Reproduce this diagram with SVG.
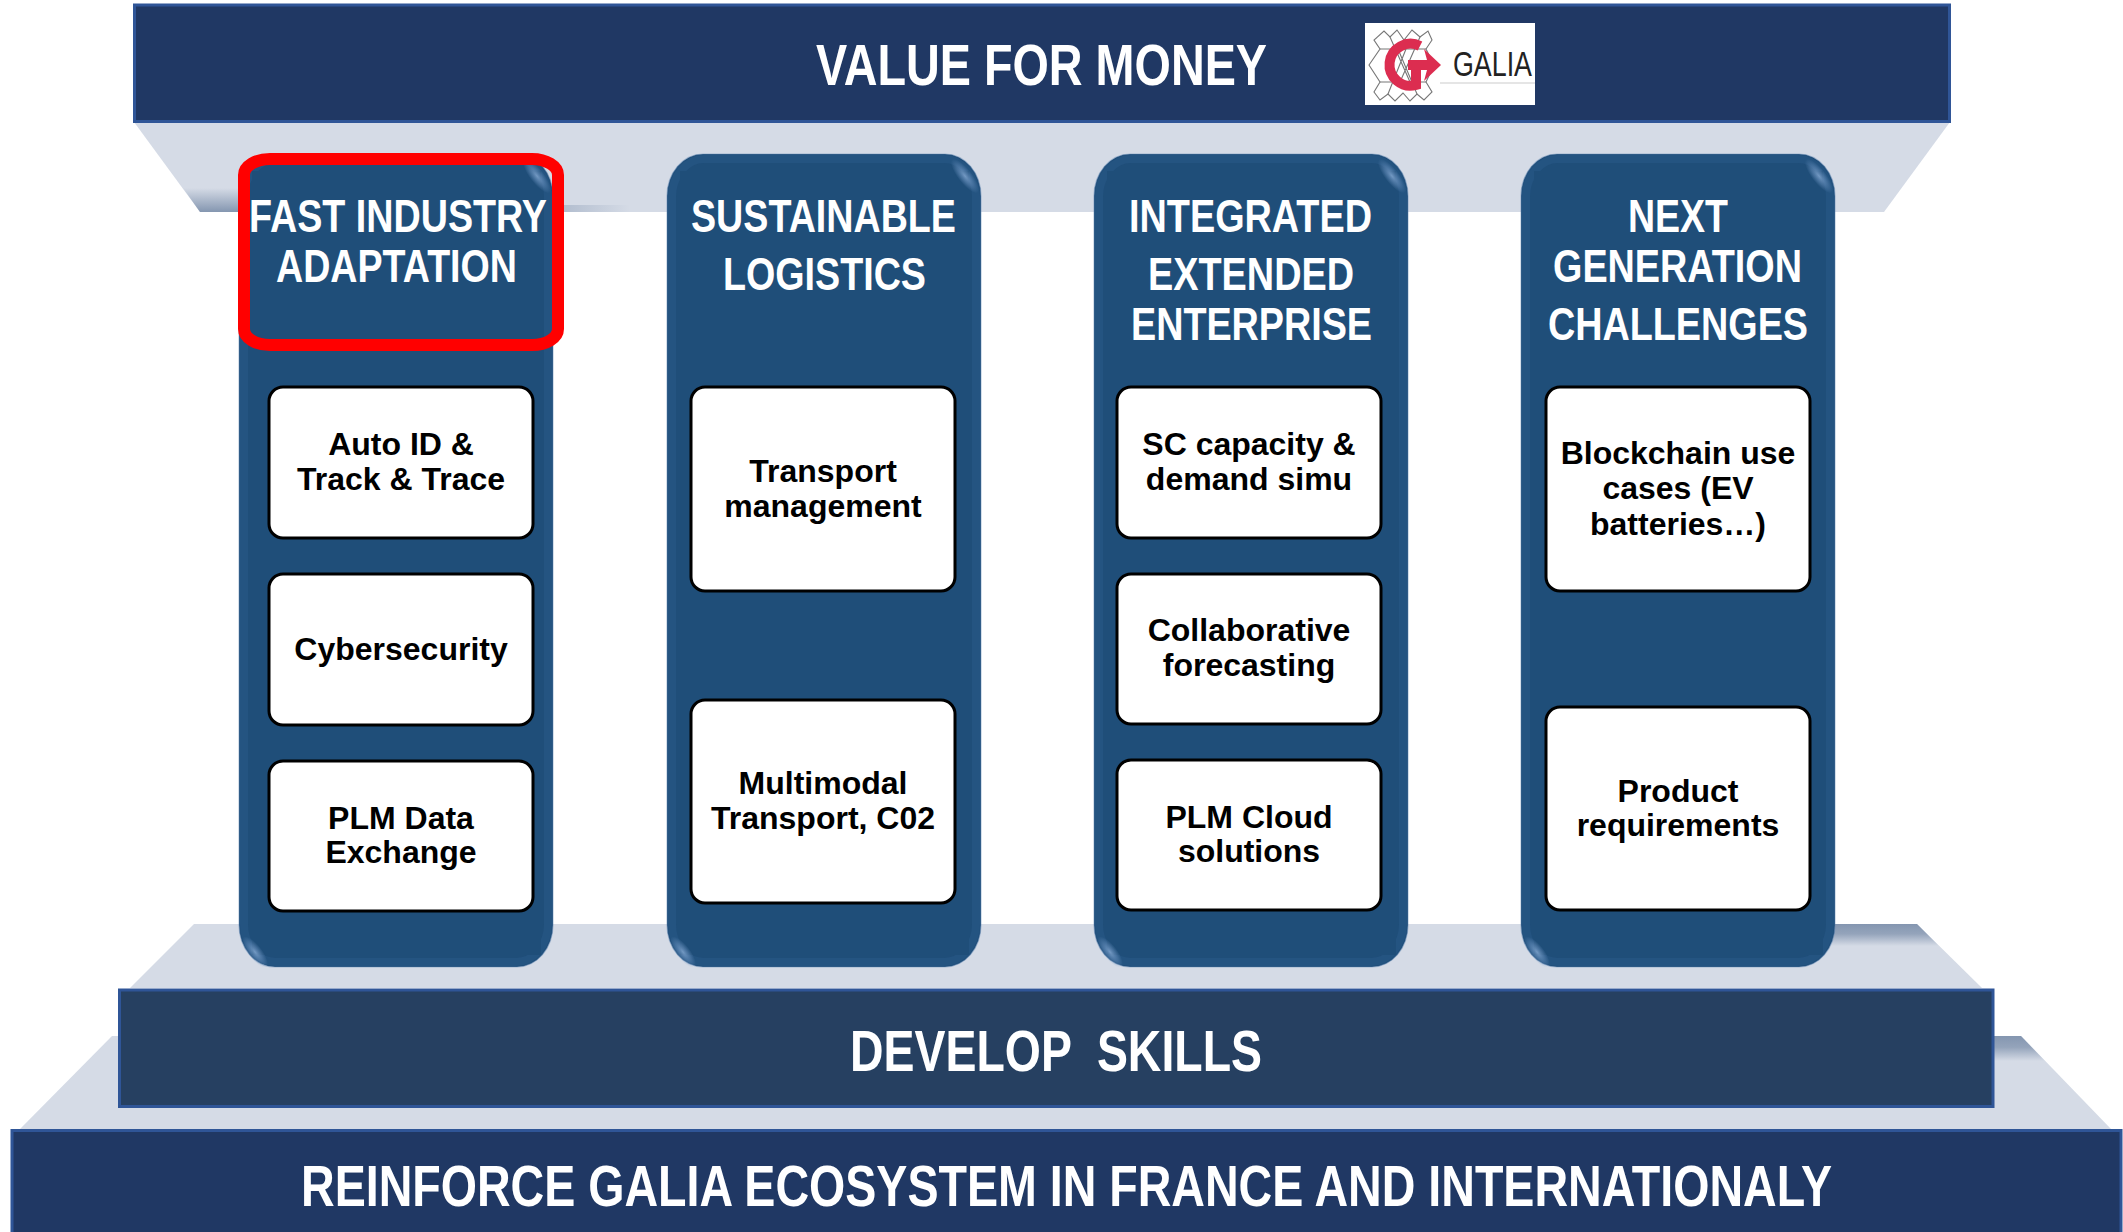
<svg xmlns="http://www.w3.org/2000/svg" width="2123" height="1232" viewBox="0 0 2123 1232">
<style>
.plat{fill:#d5dbe6}
.bar{stroke:#2f5597;stroke-width:3}
.pil{fill:#1f4e79}
.edge{fill:none;stroke:#2a5a8a;stroke-width:8;opacity:.5}
.rim{fill:none;stroke:#5f86b2;stroke-width:1.2;opacity:.45}
.box{fill:#fff;stroke:#000;stroke-width:3}
.h{font-family:"Liberation Sans",Arial,sans-serif;font-weight:700;fill:#fff;font-size:46px;white-space:pre}
.big{font-size:57px}
.t{font-family:"Liberation Sans",Arial,sans-serif;font-weight:700;fill:#000;font-size:32px;text-anchor:middle}
.flake{fill:none;stroke:#777;stroke-width:1.1}
</style>
<defs>
<linearGradient id="shUp" x1="0" y1="0" x2="0" y2="1"><stop offset="0" stop-color="#8496b0" stop-opacity="0"/><stop offset="1" stop-color="#8496b0"/></linearGradient>
<linearGradient id="shDown" x1="0" y1="0" x2="0" y2="1"><stop offset="0" stop-color="#8496b0"/><stop offset=".45" stop-color="#8496b0" stop-opacity=".8"/><stop offset="1" stop-color="#8496b0" stop-opacity="0"/></linearGradient>
<linearGradient id="shFade" x1="0" y1="0" x2="1" y2="0"><stop offset="0" stop-color="#8496b0" stop-opacity=".45"/><stop offset="1" stop-color="#8496b0" stop-opacity="0"/></linearGradient>
<radialGradient id="glow"><stop offset="0" stop-color="#8fb2dc" stop-opacity=".75"/><stop offset=".55" stop-color="#6f96c4" stop-opacity=".45"/><stop offset="1" stop-color="#6f96c4" stop-opacity="0"/></radialGradient>
<rect id="pillar" class="pil" x="0" y="0" width="314" height="813" rx="36" ry="42"/>
</defs>

<g id="roof">
<polygon class="plat" points="134,122 1950,122 1884,212 200,212"/>
<polygon fill="url(#shUp)" points="183,188 245,188 245,212 200,212"/>
<rect x="560" y="205" width="70" height="7" fill="url(#shFade)"/>
<rect id="value-bar" class="bar" x="134.500" y="5" width="1815" height="116.500" fill="#203864"/>
<text class="h big" x="816" y="85" textLength="451" lengthAdjust="spacingAndGlyphs">VALUE FOR MONEY</text>
</g>

<g id="logo">
<rect x="1365" y="23" width="170" height="82" fill="#fff"/>
<path class="flake" d="M1369,65 L1380,49 L1374,40 L1384,31 L1390,37 L1397,30 L1404,40 L1412,30 L1420,37 L1428,31 L1432,40 L1426,49 L1434,65 L1426,82 L1432,92 L1424,100 L1417,94 L1410,101 L1403,93 L1395,101 L1388,94 L1380,100 L1374,92 L1380,82 Z"/>
<path class="flake" d="M1380,49 H1426 M1380,82 H1426 M1390,37 L1410,82 M1420,37 L1400,82 M1388,94 L1406,49 M1417,94 L1398,49"/>
<path d="M1420,46 A21,21 0 1 0 1416,85 L1416,66" fill="none" stroke="#dc2d50" stroke-width="10"/>
<polygon points="1408,60 1427,60 1424,49 1441,65 1424,81 1427,70 1408,70" fill="#dc2d50"/>
<line x1="1440" y1="83" x2="1535" y2="83" stroke="#ddd" stroke-width="1.5"/>
<text x="1453" y="76" font-family="Liberation Sans,Arial,sans-serif" font-size="35" fill="#222" textLength="79" lengthAdjust="spacingAndGlyphs">GALIA</text>
</g>

<g id="base-platforms">
<polygon class="plat" points="112,1036 2021,1036 2111,1129 20,1129"/>
<polygon fill="url(#shDown)" points="1990,1036 2021,1036 2045,1061 1990,1061"/>
<polygon class="plat" points="194,924 1917,924 1982,988 130,988"/>
<polygon fill="url(#shDown)" points="1830,924 1917,924 1939,946 1830,946"/>
</g>

<g id="pillar-1">
<use href="#pillar" x="239" y="154"/>
<rect class="edge" x="244" y="159" width="304" height="803" rx="32" ry="38"/>
<rect class="pil" x="252" y="171" width="289" height="784"/>
<ellipse cx="537" cy="176" rx="7" ry="21" fill="url(#glow)" transform="rotate(-38 537 176)"/>
<ellipse cx="255" cy="952" rx="7" ry="19" fill="url(#glow)" transform="rotate(-38 255 952)"/>
<rect class="rim" x="239" y="154" width="314" height="813" rx="36" ry="42"/>
<text class="h" x="249" y="232" textLength="298" lengthAdjust="spacingAndGlyphs">FAST INDUSTRY</text>
<text class="h" x="276" y="282" textLength="241" lengthAdjust="spacingAndGlyphs">ADAPTATION</text>
<rect class="box" x="269" y="387" width="264" height="151" rx="14"/>
<text class="t" x="401" y="455">Auto ID &amp;</text>
<text class="t" x="401" y="490">Track &amp; Trace</text>
<rect class="box" x="269" y="574" width="264" height="151" rx="14"/>
<text class="t" x="401" y="660">Cybersecurity</text>
<rect class="box" x="269" y="761" width="264" height="150" rx="14"/>
<text class="t" x="401" y="829">PLM Data</text>
<text class="t" x="401" y="863">Exchange</text>
</g>

<g id="pillar-2">
<use href="#pillar" x="667" y="154"/>
<rect class="edge" x="672" y="159" width="304" height="803" rx="32" ry="38"/>
<rect class="pil" x="680" y="171" width="289" height="784"/>
<ellipse cx="965" cy="176" rx="7" ry="21" fill="url(#glow)" transform="rotate(-38 965 176)"/>
<ellipse cx="683" cy="952" rx="7" ry="19" fill="url(#glow)" transform="rotate(-38 683 952)"/>
<rect class="rim" x="667" y="154" width="314" height="813" rx="36" ry="42"/>
<text class="h" x="691" y="232" textLength="265" lengthAdjust="spacingAndGlyphs">SUSTAINABLE</text>
<text class="h" x="723" y="290" textLength="203" lengthAdjust="spacingAndGlyphs">LOGISTICS</text>
<rect class="box" x="691" y="387" width="264" height="204" rx="14"/>
<text class="t" x="823" y="482">Transport</text>
<text class="t" x="823" y="517">management</text>
<rect class="box" x="691" y="700" width="264" height="203" rx="14"/>
<text class="t" x="823" y="794">Multimodal</text>
<text class="t" x="823" y="829">Transport, C02</text>
</g>

<g id="pillar-3">
<use href="#pillar" x="1094" y="154"/>
<rect class="edge" x="1099" y="159" width="304" height="803" rx="32" ry="38"/>
<rect class="pil" x="1107" y="171" width="289" height="784"/>
<ellipse cx="1392" cy="176" rx="7" ry="21" fill="url(#glow)" transform="rotate(-38 1392 176)"/>
<ellipse cx="1110" cy="952" rx="7" ry="19" fill="url(#glow)" transform="rotate(-38 1110 952)"/>
<rect class="rim" x="1094" y="154" width="314" height="813" rx="36" ry="42"/>
<text class="h" x="1129" y="232" textLength="243" lengthAdjust="spacingAndGlyphs">INTEGRATED</text>
<text class="h" x="1148" y="290" textLength="206" lengthAdjust="spacingAndGlyphs">EXTENDED</text>
<text class="h" x="1131" y="340" textLength="241" lengthAdjust="spacingAndGlyphs">ENTERPRISE</text>
<rect class="box" x="1117" y="387" width="264" height="151" rx="14"/>
<text class="t" x="1249" y="455">SC capacity &amp;</text>
<text class="t" x="1249" y="490">demand simu</text>
<rect class="box" x="1117" y="574" width="264" height="150" rx="14"/>
<text class="t" x="1249" y="641">Collaborative</text>
<text class="t" x="1249" y="676">forecasting</text>
<rect class="box" x="1117" y="760" width="264" height="150" rx="14"/>
<text class="t" x="1249" y="828">PLM Cloud</text>
<text class="t" x="1249" y="862">solutions</text>
</g>

<g id="pillar-4">
<use href="#pillar" x="1521" y="154"/>
<rect class="edge" x="1526" y="159" width="304" height="803" rx="32" ry="38"/>
<rect class="pil" x="1534" y="171" width="289" height="784"/>
<ellipse cx="1819" cy="176" rx="7" ry="21" fill="url(#glow)" transform="rotate(-38 1819 176)"/>
<ellipse cx="1537" cy="952" rx="7" ry="19" fill="url(#glow)" transform="rotate(-38 1537 952)"/>
<rect class="rim" x="1521" y="154" width="314" height="813" rx="36" ry="42"/>
<text class="h" x="1628" y="232" textLength="100" lengthAdjust="spacingAndGlyphs">NEXT</text>
<text class="h" x="1553" y="282" textLength="249" lengthAdjust="spacingAndGlyphs">GENERATION</text>
<text class="h" x="1548" y="340" textLength="260" lengthAdjust="spacingAndGlyphs">CHALLENGES</text>
<rect class="box" x="1546" y="387" width="264" height="204" rx="14"/>
<text class="t" x="1678" y="464">Blockchain use</text>
<text class="t" x="1678" y="499">cases (EV</text>
<text class="t" x="1678" y="535">batteries…)</text>
<rect class="box" x="1546" y="707" width="264" height="203" rx="14"/>
<text class="t" x="1678" y="802">Product</text>
<text class="t" x="1678" y="836">requirements</text>
</g>

<g id="red-highlight">
<rect x="244" y="159" width="314" height="186" rx="26" ry="16" fill="none" stroke="#ff0000" stroke-width="12"/>
</g>

<g id="develop-skills">
<rect class="bar" x="119.500" y="990" width="1873.500" height="116.500" fill="#264061"/>
<text class="h big" x="850" y="1071" textLength="412" lengthAdjust="spacingAndGlyphs">DEVELOP  SKILLS</text>
</g>

<g id="ecosystem">
<rect class="bar" x="12" y="1130.500" width="2109" height="104" fill="#203864"/>
<text class="h big" x="301" y="1206" textLength="1531" lengthAdjust="spacingAndGlyphs">REINFORCE GALIA ECOSYSTEM IN FRANCE AND INTERNATIONALY</text>
</g>
</svg>
